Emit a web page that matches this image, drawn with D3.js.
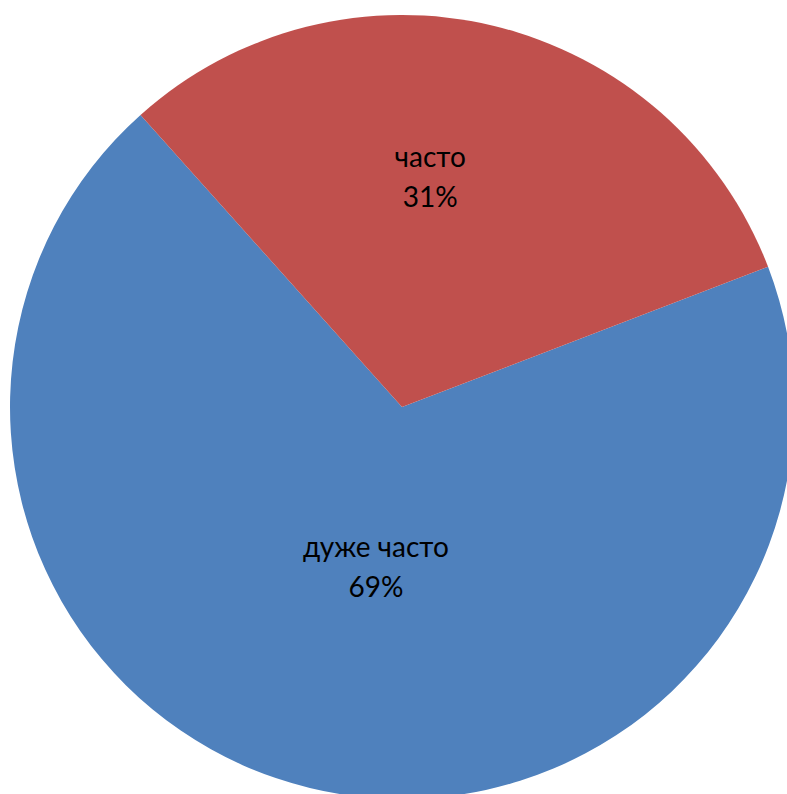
<!DOCTYPE html>
<html><head><meta charset="utf-8">
<script src="https://cdn.jsdelivr.net/npm/d3@7"></script>
<style>html,body{margin:0;padding:0;background:#fff;overflow:hidden}</style>
</head><body>
<script>
const categories = ["дуже часто", "часто"];
const values = [69.2, 30.8];
const colors = ["#4F81BD", "#C0504D"];

const W = 787, H = 794;
const cx = 402, cy = 407, R = 392;
const startDeg = 69.04;
// label placement (polar: degrees clockwise from 12 o'clock, radius fraction)
const labelPolar = [[188.7, 0.44], [7.3, 0.566]];
const fontSize = 28, lineGap = 40;

const svg = d3.select("body").append("svg").attr("width", W).attr("height", H);
const g = svg.append("g").attr("transform", `translate(${cx},${cy})`);

const data = categories.map((c, i) => ({cat: c, value: values[i], color: colors[i], lp: labelPolar[i]}));
const total = d3.sum(values);
const s = startDeg * Math.PI / 180;
const pie = d3.pie().value(d => d.value).sort(null).startAngle(s).endAngle(s + 2 * Math.PI);
const arc = d3.arc().innerRadius(0).outerRadius(R);
const arcs = pie(data);

g.selectAll("path").data(arcs).join("path")
  .attr("d", arc).attr("fill", d => d.data.color);

const lab = g.selectAll("g.lab").data(arcs).join("g").attr("class", "lab")
  .attr("transform", d => {
    const a = d.data.lp[0] * Math.PI / 180, r = d.data.lp[1] * R;
    return `translate(${r * Math.sin(a)},${-r * Math.cos(a)})`;
  });
lab.append("text").attr("text-anchor", "middle").attr("y", -lineGap / 2)
  .attr("font-family", "Lato, 'Open Sans', sans-serif").attr("font-size", fontSize).attr("fill", "#000")
  .text(d => d.data.cat);
lab.append("text").attr("text-anchor", "middle").attr("y", lineGap / 2)
  .attr("font-family", "Lato, 'Open Sans', sans-serif").attr("font-size", fontSize).attr("fill", "#000")
  .text(d => Math.round(d.data.value / total * 100) + "%");
</script>
</body></html>
